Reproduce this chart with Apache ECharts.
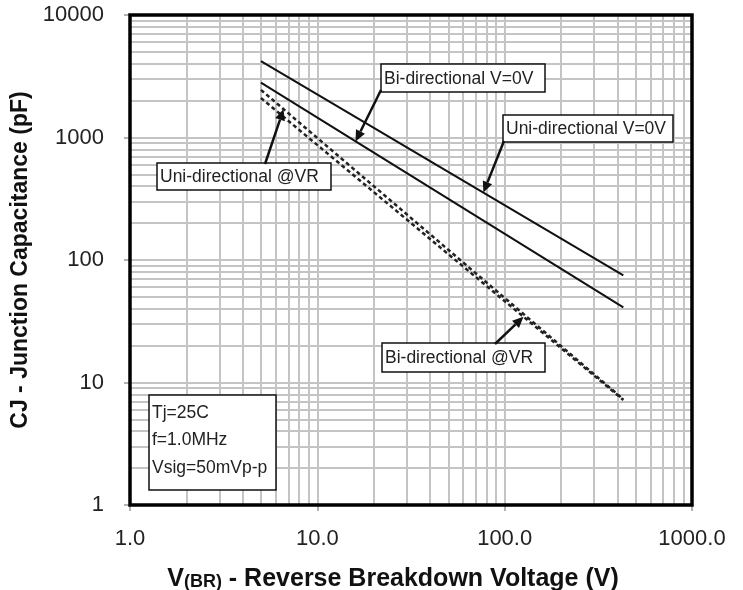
<!DOCTYPE html>
<html>
<head>
<meta charset="utf-8">
<script src="https://cdn.jsdelivr.net/npm/echarts@6/dist/echarts.min.js"></script>
<style>
html, body { margin: 0; padding: 0; background: #fff; }
#chart { width: 743px; height: 590px; }
</style>
</head>
<body>
<div id="chart"></div>
<script>
// breakdown voltage (V) at the ends of each curve
var vbr = [5, 430];
// junction capacitance (pF)
var uniZero = [4200, 75];
var biZero = [2800, 41];
var uniVR = [2450, 7.3];
var biVR = [2100, 7.2];

var gridX = [];
var gridY = [];
[1, 10, 100].forEach(function (d) {
    for (var k = 1; k <= 9; k++) {
        if (d * k > 1) gridX.push({xAxis: d * k});
    }
});
[1, 10, 100, 1000].forEach(function (d) {
    for (var k = 1; k <= 9; k++) {
        if (d * k > 1) gridY.push({yAxis: d * k});
    }
});

function pairs(ys) {
    return vbr.map(function (x, i) { return [x, ys[i]]; });
}

// log-log interpolation along a curve, used to hang the arrows on it
function onCurve(ys, x) {
    var t = (Math.log(x) - Math.log(vbr[0])) / (Math.log(vbr[1]) - Math.log(vbr[0]));
    return [x, Math.exp(Math.log(ys[0]) + t * (Math.log(ys[1]) - Math.log(ys[0])))];
}

var chart = echarts.init(document.getElementById('chart'));
var lab = {color: '#222', fontSize: 22, fontFamily: 'Liberation Sans, Arial'};

var option = {
    animation: false,
    grid: {left: 130, right: 51, top: 15, bottom: 85, outerBoundsMode: 'none'},
    xAxis: {
        type: 'log', logBase: 10, min: 1, max: 1000,
        axisLine: {show: false},
        axisTick: {show: true, length: 6, lineStyle: {color: '#999', width: 1.5}},
        splitLine: {show: false},
        axisLabel: Object.assign({margin: 23, formatter: function (v) { return v.toFixed(1); }}, lab),
        name: '{a|V}{b|(BR)}{a| - Reverse Breakdown Voltage (V)}',
        nameLocation: 'middle',
        nameGap: 62,
        nameTextStyle: {
            padding: [0, 36, 0, 0],
            rich: {
                a: {fontSize: 25, fontWeight: 'bold', color: '#111', fontFamily: 'Liberation Sans, Arial'},
                b: {fontSize: 18, fontWeight: 'bold', color: '#111', fontFamily: 'Liberation Sans, Arial', padding: [6, 0, 0, 0]}
            }
        }
    },
    yAxis: {
        type: 'log', logBase: 10, min: 1, max: 10000,
        axisLine: {show: false},
        axisTick: {show: true, length: 6, lineStyle: {color: '#999', width: 1.5}},
        splitLine: {show: false},
        axisLabel: Object.assign({margin: 26, formatter: function (v) { return String(v); }}, lab),
        name: 'CJ - Junction Capacitance (pF)',
        nameLocation: 'middle',
        nameGap: 90,
        nameTextStyle: {fontSize: 23, fontWeight: 'bold', color: '#111', fontFamily: 'Liberation Sans, Arial'}
    },
    series: [
        {
            name: 'grid', type: 'line', data: [], z: 0, silent: true,
            markLine: {
                z: 0, silent: true, symbol: ['none', 'none'], label: {show: false},
                lineStyle: {color: '#c4c4c4', width: 2, type: 'solid'},
                data: gridX.concat(gridY)
            }
        },
        {name: 'Uni-directional V=0V', type: 'line', data: pairs(uniZero), symbol: 'none', z: 10,
         lineStyle: {color: '#111', width: 2}},
        {name: 'Bi-directional V=0V', type: 'line', data: pairs(biZero), symbol: 'none', z: 10,
         lineStyle: {color: '#111', width: 2}},
        {name: 'Uni-directional @VR', type: 'line', data: pairs(uniVR), symbol: 'none', z: 10,
         lineStyle: {color: '#222', width: 2.5, type: [4, 3]}},
        {name: 'Bi-directional @VR', type: 'line', data: pairs(biVR), symbol: 'none', z: 10,
         lineStyle: {color: '#222', width: 2.5, type: [4, 3]}}
    ]
};
chart.setOption(option);

function box(x, y, w, h, txt) {
    return [
        {type: 'rect', shape: {x: x, y: y, width: w, height: h}, z: 50,
         style: {fill: '#fff', stroke: '#111', lineWidth: 1.5}},
        {type: 'text', x: x + 3, y: y + h / 2 + 1, z: 51,
         style: {text: txt, fill: '#222', font: '17.5px Liberation Sans, Arial', verticalAlign: 'middle'}}
    ];
}

function arrow(from, tipData) {
    var tip = chart.convertToPixel({gridIndex: 0}, tipData);
    var dx = tip[0] - from[0], dy = tip[1] - from[1];
    var len = Math.sqrt(dx * dx + dy * dy);
    var ux = dx / len, uy = dy / len;
    var bx = tip[0] - ux * 11, by = tip[1] - uy * 11;
    return [
        {type: 'line', z: 52, shape: {x1: from[0], y1: from[1], x2: bx, y2: by},
         style: {stroke: '#111', lineWidth: 2.5}},
        {type: 'polygon', z: 52,
         shape: {points: [tip, [bx - uy * 5, by + ux * 5], [bx + uy * 5, by - ux * 5]]},
         style: {fill: '#111'}}
    ];
}

var els = [];
els = els.concat(arrow([381, 90], onCurve(biZero, 16)));
els = els.concat(box(381, 64, 164, 28, 'Bi-directional V=0V'));
els = els.concat(arrow([504, 141], onCurve(uniZero, 77)));
els = els.concat(box(503, 115, 170, 27, 'Uni-directional V=0V'));
els = els.concat(arrow([265, 164], onCurve(uniVR, 6.6)));
els = els.concat(box(157, 163, 174, 27, 'Uni-directional @VR'));
els = els.concat(arrow([495, 344], onCurve(biVR, 126)));
els = els.concat(box(382, 343, 163, 29, 'Bi-directional @VR'));

// test conditions box
els.push({type: 'rect', shape: {x: 149, y: 395, width: 127, height: 95}, z: 50,
          style: {fill: '#fff', stroke: '#111', lineWidth: 1.5}});
['Tj=25C', 'f=1.0MHz', 'Vsig=50mVp-p'].forEach(function (t, i) {
    els.push({type: 'text', x: 152, y: 413 + i * 27.5, z: 51,
              style: {text: t, fill: '#222', font: '17.5px Liberation Sans, Arial', verticalAlign: 'middle'}});
});

// heavy plot frame
els.push({type: 'rect', shape: {x: 130, y: 15, width: 562, height: 490}, z: 60,
          style: {fill: null, stroke: '#000', lineWidth: 3.5}});

chart.setOption({graphic: els});
</script>
</body>
</html>
